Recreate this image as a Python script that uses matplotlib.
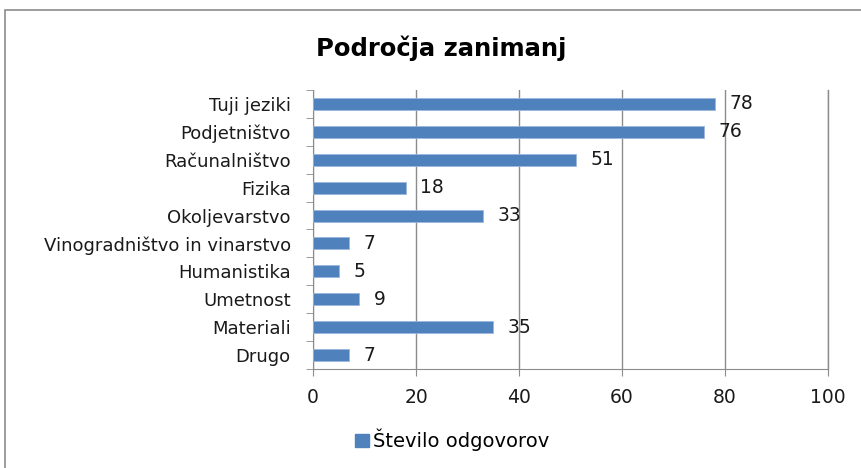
import matplotlib
matplotlib.use('Agg')
import matplotlib.pyplot as plt
from matplotlib.patches import Rectangle

# podatki
categories = ['Tuji jeziki', 'Podjetništvo', 'Računalništvo', 'Fizika', 'Okoljevarstvo',
              'Vinogradništvo in vinarstvo', 'Humanistika', 'Umetnost', 'Materiali', 'Drugo']
values = [78, 76, 51, 18, 33, 7, 5, 9, 35, 7]
x_ticks = [0, 20, 40, 60, 80, 100]

plt.rcParams['font.family'] = ['DejaVu Sans']

fig = plt.figure(figsize=(8.61, 4.68), dpi=100)
ax = fig.add_axes([313 / 861, 1 - 369 / 468, (828 - 313) / 861, (369 - 90) / 468])

# okvir grafa
fig.patches.append(Rectangle((5 / 861, -0.1), 1.1, 1 - 10 / 468 + 0.1, transform=fig.transFigure,
                             fill=False, edgecolor='#8c8c8c', linewidth=1.2))

pos = list(range(len(categories)))[::-1]
ax.barh(pos, values, height=0.43, color='#4f81bd', edgecolor='#9bb7dc', linewidth=0.6, zorder=3)
for p, v in zip(pos, values):
    ax.text(v + 2.8, p, str(v), va='center', ha='left', fontsize=13.5, color='#1a1a1a', zorder=4)

ax.set_xlim(0, 100)
ax.set_ylim(-0.5, len(categories) - 0.5)
ax.set_xticks(x_ticks)
ax.set_xticklabels([str(t) for t in x_ticks], fontsize=13.5, color='#1a1a1a')
ax.set_yticks(pos)
ax.set_yticklabels(categories, fontsize=13, color='#1a1a1a')
ax.set_yticks([i - 0.5 for i in range(len(categories) + 1)], minor=True)
ax.tick_params(axis='y', which='major', length=0, pad=16)
ax.tick_params(axis='y', which='minor', length=5, color='#8c8c8c', direction='out')
ax.tick_params(axis='x', length=5, color='#8c8c8c', direction='out', pad=9)
ax.grid(axis='x', color='#8c8c8c', linewidth=1, zorder=0)
ax.axvline(100, color='#8c8c8c', linewidth=1, zorder=0, clip_on=False)
for s in ['top', 'right']:
    ax.spines[s].set_visible(False)
for s in ['left', 'bottom']:
    ax.spines[s].set_color('#8c8c8c')

fig.text(441 / 861, 1 - 48 / 468, 'Področja zanimanj', ha='center', va='center',
         fontsize=17.5, fontweight='bold', color='#000000')

leg = fig.legend([Rectangle((0, 0), 1, 1, color='#4f81bd')], ['Število odgovorov'],
                 loc='center', bbox_to_anchor=(452 / 861, 1 - 440 / 468), frameon=False,
                 fontsize=14, handlelength=0.7, handleheight=0.7, handletextpad=0.2)

fig.savefig('out.png', dpi=100)
